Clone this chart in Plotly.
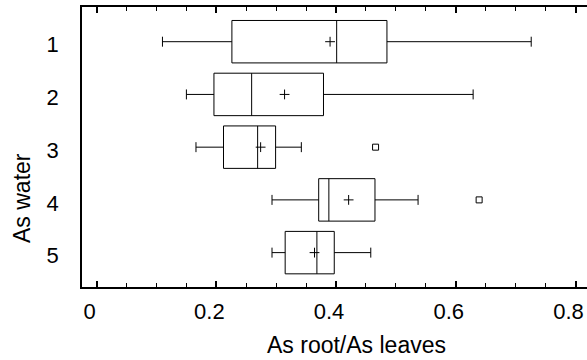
import plotly.graph_objects as go

# ---- data ----
groups = ["1", "2", "3", "4", "5"]
positions = [1, 2, 3, 4, 5]
lower_whisker = [0.110, 0.150, 0.166, 0.293, 0.293]
q1_vals = [0.226, 0.196, 0.212, 0.371, 0.315]
medians = [0.401, 0.259, 0.269, 0.388, 0.368]
q3_vals = [0.485, 0.379, 0.299, 0.465, 0.397]
upper_whisker = [0.726, 0.629, 0.342, 0.537, 0.458]
means = [0.390, 0.314, 0.274, 0.421, 0.364]
outlier_group = [3, 4]
outlier_vals = [0.466, 0.639]

x_ticks = [0, 0.2, 0.4, 0.6, 0.8]
x_ticklabels = ["0", "0.2", "0.4", "0.6", "0.8"]
x_title = "As root/As leaves"
y_title = "As water"

FONT = "Liberation Sans, Arial, sans-serif"

fig = go.Figure()
fig.add_trace(go.Box(
    y=positions, q1=q1_vals, median=medians, q3=q3_vals,
    lowerfence=lower_whisker, upperfence=upper_whisker,
    orientation="h", boxpoints=False, width=0.805, whiskerwidth=0.235,
    fillcolor="white", line=dict(color="black", width=1),
    showlegend=False, hoverinfo="skip",
))
fig.add_trace(go.Scatter(
    x=means, y=positions, mode="markers",
    marker=dict(symbol="cross-thin", size=7, line=dict(color="black", width=1)),
    showlegend=False,
))
fig.add_trace(go.Scatter(
    x=outlier_vals, y=outlier_group, mode="markers",
    marker=dict(symbol="square-open", size=6, color="black", line=dict(width=1)),
    showlegend=False,
))

fig.update_layout(
    width=587, height=360,
    margin=dict(l=82, r=0, t=7, b=73),
    plot_bgcolor="white", paper_bgcolor="white",
    font=dict(family=FONT, size=22, color="black"),
    xaxis=dict(
        range=[-0.0244, 0.8192], tickvals=x_ticks, ticktext=x_ticklabels,
        ticks="inside", ticklen=6, tickwidth=1.5, tickcolor="black",
        minor=dict(dtick=0.05, tick0=0, ticks="inside", ticklen=4, tickcolor="black", tickwidth=1),
        showline=True, linecolor="black", linewidth=1.5, mirror="allticks",
        showgrid=False, zeroline=False,
        ticklabelshift=-7, ticklabelstandoff=4,
        tickfont=dict(family=FONT, size=22),
    ),
    yaxis=dict(
        range=[5.652, 0.342], tickvals=positions, ticktext=groups,
        ticks="", showline=True, linecolor="black", linewidth=1.5, mirror=False,
        showgrid=False, zeroline=False,
        ticklabelstandoff=17, ticklabelshift=-3,
        tickfont=dict(family=FONT, size=22),
    ),
    annotations=[
        dict(text=x_title, xref="paper", yref="paper", x=0.5426, y=-0.207,
             xanchor="center", yanchor="middle", showarrow=False,
             font=dict(family=FONT, size=23)),
        dict(text=y_title, xref="paper", yref="paper", x=-0.1188, y=0.318,
             xanchor="center", yanchor="middle", showarrow=False, textangle=-90,
             font=dict(family=FONT, size=23)),
    ],
)

fig.write_html("out.html")
